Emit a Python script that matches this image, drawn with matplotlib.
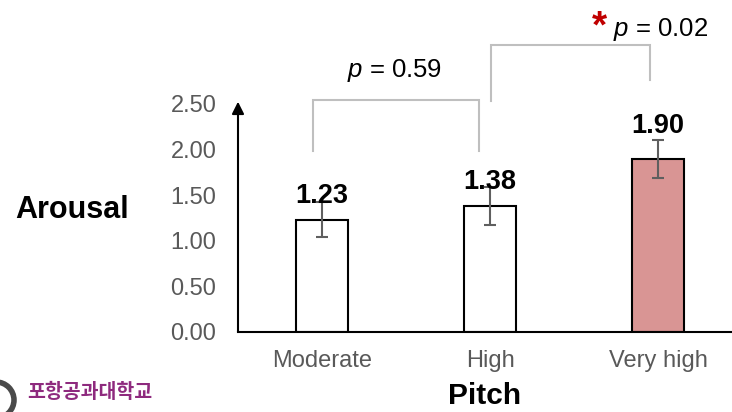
import matplotlib
matplotlib.use("Agg")
import matplotlib.pyplot as plt
from matplotlib.patches import Ellipse

plt.rcParams['font.family'] = ['Liberation Sans', 'DejaVu Sans']
plt.rcParams['mathtext.fontset'] = 'custom'
plt.rcParams['mathtext.it'] = 'Liberation Sans:italic'
plt.rcParams['mathtext.rm'] = 'Liberation Sans'

# data
categories = ["Moderate", "High", "Very high"]
arousal = [1.23, 1.38, 1.90]
errors = [0.19, 0.21, 0.21]
bar_colors = ["white", "white", "#D99594"]
yticks = [0.0, 0.5, 1.0, 1.5, 2.0, 2.5]
comparisons = [(0, 1, "0.59", False), (1, 2, "0.02", True)]

W, H = 732, 412
fig = plt.figure(figsize=(W / 100, H / 100), dpi=100)


def fx(px):
    return px / W


def fy(py):
    return 1 - py / H


ax = fig.add_axes([fx(238), fy(332), fx(W - 238), (332 - 104) / H])
x = list(range(len(categories)))
ax.bar(x, arousal, width=0.31, color=bar_colors, edgecolor="black", linewidth=1.5, zorder=2)
ax.errorbar(x, arousal, yerr=errors, fmt="none", ecolor="#5F5F5F", elinewidth=1.5,
            capsize=4.5, capthick=1.5, zorder=3)

ax.set_xlim(-0.5, 2.44)
ax.set_ylim(0, 2.5)
for s in ["top", "right", "left"]:
    ax.spines[s].set_visible(False)
ax.spines["bottom"].set_linewidth(1.5)

ax.set_yticks(yticks)
ax.set_yticklabels([f"{v:.2f}" for v in yticks])
ax.set_xticks(x)
ax.set_xticklabels(categories)
ax.tick_params(axis="y", length=0, pad=15.5, labelsize=17, labelcolor="#595959")
ax.tick_params(axis="x", length=0, pad=13, labelsize=17, labelcolor="#595959")

# y axis with arrow head
ax.annotate("", xy=(0, 1.01), xytext=(0, 0), xycoords="axes fraction",
            arrowprops=dict(arrowstyle="-|>", color="black", lw=1.5,
                            mutation_scale=18, shrinkA=0, shrinkB=0))

# value labels
label_pad = [17, 17, 26]
for i, v in enumerate(arousal):
    ax.annotate(f"{v:.2f}", (i, v), xytext=(0, label_pad[i]), textcoords="offset pixels",
                ha="center", va="baseline", fontsize=19.5, fontweight="bold", zorder=4)

# significance brackets
bracket_geom = [
    # x offsets left/right, top y, left bottom y, right bottom y
    (-0.054, -0.065, 2.54, 1.985, 1.985),
    (0.004, -0.048, 3.15, 2.53, 2.76),
]
for (a, b, pval, sig), (dl, dr, top, yl, yr) in zip(comparisons, bracket_geom):
    xl, xr = a + dl, b + dr
    ax.plot([xl, xl, xr, xr], [yl, top, top, yr], color="#BFBFBF", lw=1.5,
            clip_on=False, zorder=1, solid_joinstyle="miter")

fig.text(fx(394), fy(77), r"$p$ = 0.59", ha="center", va="baseline", fontsize=18.5)
fig.text(fx(661), fy(36), r"$p$ = 0.02", ha="center", va="baseline", fontsize=18.5)
fig.text(fx(599), fy(37), "*", ha="center", va="baseline", fontsize=28,
         fontweight="bold", color="#C00000")

fig.text(fx(15), fy(218), "Arousal", ha="left", va="baseline", fontsize=22, fontweight="bold")
fig.text(fx(485), fy(404), "Pitch", ha="center", va="baseline", fontsize=21.5, fontweight="bold")

# institution logo fragment
fig.add_artist(Ellipse((fx(-4), fy(400)), fx(36), 36 / H, transform=fig.transFigure,
                       fill=False, edgecolor="#4A4A4A", lw=4))
fig.text(fx(27), fy(398), "포항공과대학교", ha="left", va="baseline", fontsize=14,
         fontweight="bold", color="#8E2A7E", family=["Noto Sans CJK KR", "DejaVu Sans"])

fig.savefig("out.png", dpi=100)
